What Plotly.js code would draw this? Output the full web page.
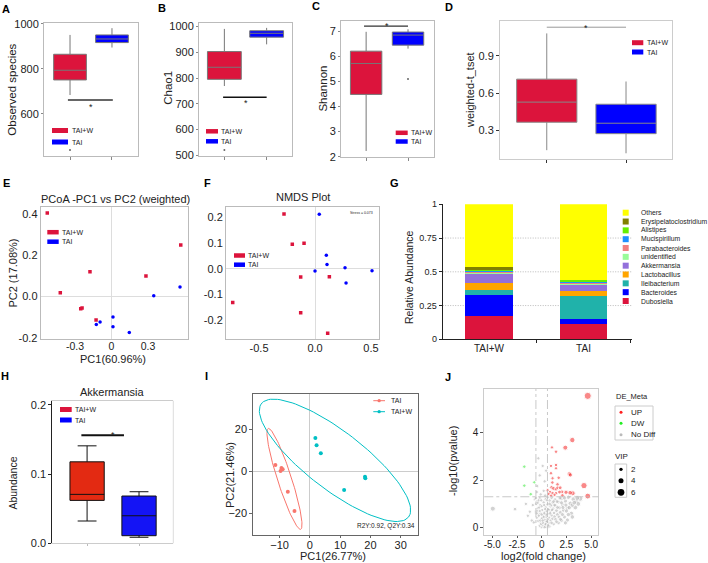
<!DOCTYPE html>
<html><head><meta charset="utf-8">
<script src="https://cdn.plot.ly/plotly-3.0.1.min.js"></script>
<style>html,body{margin:0;padding:0;background:#fff}#chart{width:708px;height:563px}</style>
</head><body><div id="chart"></div>
<script>
// ---------------- DATA ----------------
const groups = ['TAI+W', 'TAI'];
// A: Observed species (box stats: [TAI+W, TAI])
const obsQ1 = [751, 917], obsMedian = [794, 933], obsQ3 = [865, 951], obsLower = [684, 895], obsUpper = [951, 981];
const obsOutlierTAIW = [440];
// B: Chao1
const chaoQ1 = [795, 959], chaoMedian = [842, 974], chaoQ3 = [903, 984], chaoLower = [769, 931], chaoUpper = [991, 995];
const chaoOutlierTAIW = [520];
// C: Shannon
const shanQ1 = [4.48, 6.44], shanMedian = [5.71, 6.84], shanQ3 = [6.2, 6.96], shanLower = [2.23, 6.3], shanUpper = [6.97, 7.07];
const shanOutlierTAI = [5.09];
// D: weighted-t_tset
const wtQ1 = [0.365, 0.273], wtMedian = [0.527, 0.357], wtQ3 = [0.712, 0.51], wtLower = [0.14, 0.115], wtUpper = [1.08, 0.693];
// E: PCoA
const pcoaTAIWx = [-0.528, -0.177, -0.421, -0.253, -0.242, -0.127, 0.283, 0.569];
const pcoaTAIWy = [0.404, 0.120, 0.018, -0.060, -0.056, -0.114, 0.099, 0.249];
const pcoaTAIx = [0.563, 0.347, -0.125, -0.094, 0.012, 0.012, 0.146];
const pcoaTAIy = [0.046, 0.003, -0.136, -0.124, -0.100, -0.147, -0.174];
// F: NMDS
const nmdsTAIWx = [-0.277, -0.203, -0.098, -0.128, 0.128, -0.735, -0.128, 0.113];
const nmdsTAIWy = [0.213, 0.095, 0.099, -0.032, -0.031, -0.132, -0.172, -0.251];
const nmdsTAIx = [0.038, 0.101, 0.107, 0.0, 0.268, 0.509, 0.277];
const nmdsTAIy = [0.212, 0.052, 0.016, -0.009, 0.004, -0.008, -0.056];
// G: relative abundance (bottom to top)
const genera = ['Dubosiella', 'Bacteroides', 'Ileibacterium', 'Lactobacillus', 'Akkermansia', 'unidentified', 'Parabacteroides', 'Mucispirillum', 'Alistipes', 'Erysipelatoclostridium', 'Others'];
const abundTAIW = [0.171, 0.160, 0.032, 0.051, 0.071, 0.007, 0.008, 0.004, 0.012, 0.016, 0.468];
const abundTAI  = [0.115, 0.037, 0.166, 0.042, 0.044, 0.006, 0.004, 0.014, 0.012, 0.003, 0.557];
// H: Akkermansia abundance
const akkQ1 = [0.062, 0.011], akkMedian = [0.0707, 0.0398], akkQ3 = [0.1177, 0.0683], akkLower = [0.0322, 0.0087], akkUpper = [0.1408, 0.0745];
// I: PLS-DA scores
const plsTAIx = [-11.4, -9.4, -9.0, -9.7, -7.3, -5.1];
const plsTAIy = [3.0, 1.6, 1.0, 0.2, -9.7, -18.9];
const plsTAIWx = [1.8, 2.2, 3.6, 11.3, 18.2, 18.3];
const plsTAIWy = [15.9, 12.4, 8.6, -8.9, -2.6, -3.3];
// confidence ellipses: centre, half-axis vectors (data units)
const ellTAIcentre = [-8.4, -3.6], ellTAIu = [5.35, -24.0], ellTAIv = [2.2, 1.0];
const ellTAIWcentre = [8.28, 5.24], ellTAIWu = [24.3, -27.0], ellTAIWv = [5.84, 10.9];
// J: volcano
const upX = [4.66, 3.1, 2.39, 1.04, 1.45, 0.94, 1.45, 1.45, 0.94, 2.8, 2.9, 1.1, 1.08, 1.72, 1.6, 4.28, 4.66, 3.14, 2.87, 2.46, 2.05, 1.0, 1.2, 1.45, 1.6, 1.87, 0.6, 0.85, 1.1, 1.45, 1.8, 0.7, 1.3, 2.1, 0.95];
const upY = [5.55, 3.69, 3.37, 3.38, 3.2, 2.6, 2.64, 2.5, 2.29, 2.26, 2.22, 2.08, 1.9, 2.1, 1.82, 1.77, 1.33, 1.45, 1.47, 1.49, 1.51, 1.7, 1.65, 1.62, 1.68, 1.68, 1.58, 1.5, 1.45, 1.45, 1.5, 1.42, 1.38, 1.36, 1.35];
const upVip = [6.5, 4.5, 4, 2, 2.2, 2, 2.2, 2, 2.2, 3.6, 3.2, 2, 2.2, 2.2, 2.4, 5.5, 5, 4, 3.6, 3.2, 2.6, 2.5, 2.8, 2.5, 2.2, 2.6, 2, 2.2, 2.4, 2.2, 2.5, 2, 2, 2.3, 2];
const dwX = [-1.76, -0.75, -1.76, -1.11];
const dwY = [2.57, 1.91, 1.77, 1.41];
const dwVip = [2.2, 2, 2.2, 2.2];
const ndX = [0.0, 0.2, 0.4, -0.2, 0.1, 0.5, 0.3, -0.1, 0.7, 0.15, -0.35, 0.55, 0.9, 0.3, 0.0, 1.1, 0.75, -0.5, 0.45, 1.3, 0.15, 1.0, -0.25, 1.6, 0.6, 1.25, 0.3, 1.9, -0.6, 0.9, 1.5, 0.05, 2.2, 0.65, 1.15, -0.4, 1.8, 0.4, 2.6, 0.9, 1.4, -0.15, 2.1, 0.6, 2.9, 1.1, 0.2, 1.7, -0.5, 2.4, 0.8, 3.5, 1.35, 0.4, 3.2, 2.0, -0.2, 3.9, 1.0, 2.7, 0.6, 2.6, 3.0, 2.3, 3.4, 3.7, 2.0, 1.7, 1.2, 0.8, -4.95, -2.7, -1.2, -1.0, -0.8, -1.4, -0.9, -0.7, -1.6, -0.34, 0.1, -0.2, 0.3, -0.45, 0.2, -0.1, 0.45, 0.35, -0.5,
  -0.55, -0.45, -0.3, -0.15, -0.05, -0.6, -0.4, -0.25, -0.1, 0.05, 0.12, -0.5, -0.2, 0.0, -0.3, -0.05, 0.35, 0.6, 0.85, 1.05, 1.3, 1.55, 1.85, 0.45, 0.7, 0.95, 1.2, 0.5, 0.8, 1.0, 1.4, 1.75, 2.1, 2.5, 2.8, 3.1, 1.6, 2.0, 2.3, 0.25, 0.55, 0.7, 1.5, 2.45, 3.3, 3.6, 2.15, 1.9, 2.7, 3.1, 2.4, 0.25, 0.35, 0.1, 0.3, 0.5, 0.2, 0.4, 0.65, 0.0];
const ndY = [0.02, 0.05, 0.04, 0.08, 0.12, 0.12, 0.18, 0.2, 0.2, 0.25, 0.28, 0.28, 0.3, 0.34, 0.38, 0.38, 0.42, 0.42, 0.46, 0.46, 0.5, 0.52, 0.55, 0.55, 0.58, 0.62, 0.64, 0.64, 0.66, 0.68, 0.72, 0.74, 0.74, 0.78, 0.8, 0.82, 0.84, 0.86, 0.82, 0.9, 0.93, 0.95, 0.96, 0.98, 1.02, 1.04, 1.06, 1.08, 1.1, 1.12, 1.14, 1.12, 1.18, 1.2, 1.2, 1.22, 1.24, 1.22, 1.26, 1.28, 1.28, 0.32, 0.6, 0.45, 0.85, 1.0, 0.3, 0.2, 0.15, 0.05, 0.8, 0.78, 0.67, 0.3, 0.22, 0.5, 0.95, 1.2, 1.0, 2.92, 2.6, 2.2, 1.95, 1.75, 1.55, 1.4, 2.4, 1.35, 1.5,
  1.0, 0.7, 0.5, 0.3, 0.15, 1.25, 1.05, 0.85, 0.6, 0.4, 0.2, 0.6, 0.7, 0.9, 1.15, 1.15, 0.1, 0.35, 0.6, 0.75, 0.95, 1.1, 1.25, 0.55, 0.75, 0.95, 1.1, 0.7, 1.0, 0.2, 0.35, 0.45, 0.55, 0.7, 0.85, 0.95, 0.85, 1.05, 1.25, 0.95, 1.15, 0.05, 0.25, 0.95, 1.05, 1.25, 0.85, 0.35, 0.55, 0.45, 0.2, 0.6, 0.78, 0.3, 0.02, 0.25, 0.45, 0.15, 0.1, 0.55];
const ndVip = [2, 2, 2, 2, 2.5, 2, 2.2, 2, 2.2, 2, 2, 2.5, 2, 2.2, 2, 2.4, 2, 2, 2.3, 2.6, 2, 2.2, 2, 2.8, 2.2, 2.4, 2, 3, 2, 2.3, 2.6, 2, 3.2, 2.2, 2.4, 2, 2.8, 2.1, 3.5, 2.3, 2.5, 2, 3, 2.2, 3.6, 2.4, 2, 2.7, 2, 3.2, 2.2, 4, 2.5, 2.1, 3.6, 2.9, 2, 4.2, 2.3, 3.2, 2.1, 3.2, 3.4, 3, 3.8, 3.8, 2.8, 2.5, 2.3, 2, 4, 2.5, 2, 2, 2, 2, 2, 2, 2, 2, 2, 2, 2, 2, 2, 2, 2, 2.2, 2,
  2, 2, 2, 2, 2, 2, 2, 2, 2, 2, 2, 2, 2, 2, 2, 2, 2, 2.2, 2.3, 2.4, 2.5, 2.6, 2.8, 2.1, 2.2, 2.3, 2.5, 2.1, 2.3, 2.3, 2.5, 2.7, 2.9, 3.1, 3.3, 3.5, 2.6, 2.8, 3.0, 2.0, 2.1, 2.1, 2.5, 3.1, 3.6, 3.8, 2.9, 2.7, 3.2, 3.4, 3.0, 2.0, 2.1, 2, 2, 2.1, 2, 2.1, 2.2, 2];
const fcThreshold = 0.585, pThreshold = 1.301;

// ---------------- STYLE ----------------
const FONT = 'Liberation Sans, Arial, sans-serif';
const RED = '#DC143C', BLUE = '#0000FF';
const genusColors = ['#DC143C', '#0000FF', '#20B2AA', '#FFA500', '#9370DB', '#98FB98', '#F08080', '#1E90FF', '#66EE00', '#808000', '#FFFF00'];
const W = 708, H = 563;
const fx = p => p / W, fy = p => 1 - p / H;

const traces = [], shapes = [], annotations = [];
const sfx = n => (n === 1 ? '' : String(n));

function addBoxes(n, q1, med, q3, lo, hi, fills, lineColor, width, ww) {
  groups.forEach((g, i) => traces.push({
    type: 'box', x: [g], q1: [q1[i]], median: [med[i]], q3: [q3[i]],
    lowerfence: [lo[i]], upperfence: [hi[i]], fillcolor: fills[i],
    line: { color: lineColor, width: 1 }, width: width, whiskerwidth: ww,
    boxpoints: false, xaxis: 'x' + sfx(n), yaxis: 'y' + sfx(n), hoverinfo: 'skip', showlegend: false
  }));
}
function addOutlier(n, g, vals) {
  traces.push({ type: 'scatter', mode: 'markers', x: vals.map(() => g), y: vals,
    marker: { size: 2, color: '#666' }, xaxis: 'x' + sfx(n), yaxis: 'y' + sfx(n), hoverinfo: 'skip', showlegend: false });
}
function text(t, x, y, size, opts) {
  annotations.push(Object.assign({ text: t, x: fx(x), y: fy(y), xref: 'paper', yref: 'paper', showarrow: false,
    font: { family: FONT, size: size, color: '#222' }, xanchor: 'center', yanchor: 'middle', borderpad: 0 }, opts || {}));
}
function rectPx(x0, y0, x1, y1, fill, line) {
  shapes.push({ type: 'rect', xref: 'paper', yref: 'paper', x0: fx(x0), x1: fx(x1), y0: fy(y1), y1: fy(y0),
    fillcolor: fill, line: { width: line ? 1 : 0, color: line || fill } });
}
function groupLegend(x0, x1, yc, h, tx, colors) {
  groups.forEach((g, i) => {
    rectPx(x0, yc[i] - h / 2, x1, yc[i] + h / 2, colors[i]);
    text(g, tx, yc[i], 7, { xanchor: 'left' });
  });
}
function sigBar(n, a, b, yv, color, w) {
  shapes.push({ type: 'line', xref: 'x' + sfx(n), yref: 'y' + sfx(n), x0: a, x1: b, y0: yv, y1: yv, line: { color: color, width: w } });
}
function star(n, ypx) {
  annotations.push({ text: '*', xref: 'x' + sfx(n), yref: 'paper', x: 0.5, y: fy(ypx + 2.5), showarrow: false,
    font: { family: FONT, size: 9, color: '#222' }, xanchor: 'center', yanchor: 'middle', borderpad: 0 });
}

// ---------------- TRACES ----------------
addBoxes(1, obsQ1, obsMedian, obsQ3, obsLower, obsUpper, [RED, BLUE], '#777', 0.78, 0);
addOutlier(1, 'TAI+W', obsOutlierTAIW);
addBoxes(2, chaoQ1, chaoMedian, chaoQ3, chaoLower, chaoUpper, [RED, BLUE], '#777', 0.8, 0);
addOutlier(2, 'TAI+W', chaoOutlierTAIW);
addBoxes(3, shanQ1, shanMedian, shanQ3, shanLower, shanUpper, [RED, BLUE], '#777', 0.75, 0);
addOutlier(3, 'TAI', shanOutlierTAI);
addBoxes(4, wtQ1, wtMedian, wtQ3, wtLower, wtUpper, [RED, BLUE], '#888', 0.76, 0);
traces.push({ type: 'scatter', mode: 'markers', x: pcoaTAIWx, y: pcoaTAIWy, marker: { symbol: 'square', size: 3.5, color: RED }, xaxis: 'x5', yaxis: 'y5', showlegend: false });
traces.push({ type: 'scatter', mode: 'markers', x: pcoaTAIx, y: pcoaTAIy, marker: { symbol: 'circle', size: 3.5, color: BLUE }, xaxis: 'x5', yaxis: 'y5', showlegend: false });
traces.push({ type: 'scatter', mode: 'markers', x: nmdsTAIWx, y: nmdsTAIWy, marker: { symbol: 'square', size: 3.5, color: RED }, xaxis: 'x6', yaxis: 'y6', showlegend: false });
traces.push({ type: 'scatter', mode: 'markers', x: nmdsTAIx, y: nmdsTAIy, marker: { symbol: 'circle', size: 3.5, color: BLUE }, xaxis: 'x6', yaxis: 'y6', showlegend: false });
genera.forEach((g, i) => traces.push({ type: 'bar', name: g, x: groups, y: [abundTAIW[i], abundTAI[i]], width: 0.5,
  marker: { color: genusColors[i], line: { width: 0 } }, xaxis: 'x7', yaxis: 'y7', showlegend: false, hoverinfo: 'skip' }));
addBoxes(8, akkQ1, akkMedian, akkQ3, akkLower, akkUpper, ['#E32A12', '#1414F5'], '#111', 0.66, 0.55);
function ellipse(c, u, v) {
  const xs = [], ys = [];
  for (let k = 0; k <= 120; k++) { const t = 2 * Math.PI * k / 120; xs.push(c[0] + u[0] * Math.cos(t) + v[0] * Math.sin(t)); ys.push(c[1] + u[1] * Math.cos(t) + v[1] * Math.sin(t)); }
  return { xs, ys };
}
const e1 = ellipse(ellTAIcentre, ellTAIu, ellTAIv), e2 = ellipse(ellTAIWcentre, ellTAIWu, ellTAIWv);
traces.push({ type: 'scatter', mode: 'lines', x: e1.xs, y: e1.ys, line: { color: '#F8766D', width: 1 }, xaxis: 'x9', yaxis: 'y9', showlegend: false, hoverinfo: 'skip' });
traces.push({ type: 'scatter', mode: 'lines', x: e2.xs, y: e2.ys, line: { color: '#00BFC4', width: 1 }, xaxis: 'x9', yaxis: 'y9', showlegend: false, hoverinfo: 'skip' });
traces.push({ type: 'scatter', mode: 'markers', x: plsTAIx, y: plsTAIy, marker: { size: 4, color: '#F8766D' }, xaxis: 'x9', yaxis: 'y9', showlegend: false });
traces.push({ type: 'scatter', mode: 'markers', x: plsTAIWx, y: plsTAIWy, marker: { size: 4, color: '#00BFC4' }, xaxis: 'x9', yaxis: 'y9', showlegend: false });
const vipSize = v => 1.6 + v * 0.85;
traces.push({ type: 'scatter', mode: 'markers', x: ndX, y: ndY, marker: { size: ndVip.map(vipSize), color: 'rgba(180,180,180,0.85)' }, xaxis: 'x10', yaxis: 'y10', showlegend: false });
traces.push({ type: 'scatter', mode: 'markers', x: dwX, y: dwY, marker: { size: dwVip.map(vipSize), color: 'rgba(60,235,60,0.8)' }, xaxis: 'x10', yaxis: 'y10', showlegend: false });
traces.push({ type: 'scatter', mode: 'markers', x: upX, y: upY, marker: { size: upVip.map(vipSize), color: 'rgba(245,45,45,0.8)' }, xaxis: 'x10', yaxis: 'y10', showlegend: false });

// ---------------- AXES ----------------
const tickFont = s => ({ family: FONT, size: s, color: '#222' });
function catX(n, l, r, range, lineColor, ticklen, tickcolor, mirror) {
  return { domain: [fx(l), fx(r)], anchor: 'y' + sfx(n), type: 'category', categoryorder: 'array', categoryarray: groups,
    range: range, showline: true, mirror: mirror, linecolor: lineColor, linewidth: 1, showticklabels: false,
    ticks: 'outside', ticklen: ticklen, tickcolor: tickcolor, showgrid: false, zeroline: false, fixedrange: true };
}
function numY(n, t, b, range, tickvals, ticktext, lineColor, mirror, ticklen, tickcolor, fs) {
  return { domain: [fy(b), fy(t)], anchor: 'x' + sfx(n), range: range, tickvals: tickvals, ticktext: ticktext,
    showline: true, mirror: mirror, linecolor: lineColor, linewidth: 1, ticks: ticklen ? 'outside' : '', ticklen: ticklen || 0,
    tickcolor: tickcolor, tickfont: tickFont(fs || 11), showgrid: false, zeroline: false, fixedrange: true };
}
function numX(n, l, r, range, tickvals, ticktext, lineColor, ticklen, fs, zl) {
  return { domain: [fx(l), fx(r)], anchor: 'y' + sfx(n), range: range, tickvals: tickvals, ticktext: ticktext,
    showline: true, mirror: true, linecolor: lineColor, linewidth: 1, ticks: ticklen ? 'outside' : '', ticklen: ticklen || 0,
    tickcolor: lineColor, tickfont: tickFont(fs || 11), showgrid: false, zeroline: !!zl, zerolinecolor: zl, zerolinewidth: 1, fixedrange: true };
}

const layout = {
  width: W, height: H, autosize: false, margin: { l: 0, r: 0, t: 0, b: 0 },
  paper_bgcolor: '#fff', plot_bgcolor: 'rgba(0,0,0,0)', showlegend: false, barmode: 'stack',
  font: { family: FONT, color: '#222' },
  xaxis: catX(1, 44, 138, [-0.62, 1.62], '#bbb', 3, '#888', true),
  yaxis: numY(1, 23, 156, [413, 1004], [600, 800, 1000], ['600', '800', '1000'], '#bbb', true, 2, '#888'),
  xaxis2: catX(2, 199, 292, [-0.6, 1.6], '#bbb', 3, '#888', true),
  yaxis2: numY(2, 23, 156, [497, 1014], [500, 600, 700, 800, 900, 1000], null, '#bbb', true, 2, '#888'),
  xaxis3: catX(3, 341, 434, [-0.6, 1.62], '#bbb', 3, '#888', true),
  yaxis3: numY(3, 21, 157, [1.99, 7.4], [2, 3, 4, 5, 6, 7], null, '#bbb', true, 2, '#888'),
  xaxis4: catX(4, 500, 672, [-0.59, 1.58], '#ccc', 3, '#333', true),
  yaxis4: numY(4, 21, 159, [0.069, 1.18], [0.3, 0.6, 0.9], ['0.3', '0.6', '0.9'], '#ccc', true, 3, '#333'),
  xaxis5: numX(5, 40.7, 187.7, [-0.582, 0.626], [-0.3, 0, 0.3], ['-0.3', '0', '0.3'], '#bbb', 0, 10.5, '#ddd'),
  yaxis5: Object.assign(numY(5, 207.3, 339, [-0.206, 0.432], [-0.2, 0, 0.2, 0.4], ['-0.2', '0.0', '0.2', '0.4'], '#bbb', true, 0), { zeroline: true, zerolinecolor: '#ddd', zerolinewidth: 1 }),
  xaxis6: numX(6, 226, 379.3, [-0.795, 0.574], [-0.5, 0, 0.5], ['-0.5', '0.0', '0.5'], '#bbb', 0, 11, '#ddd'),
  yaxis6: Object.assign(numY(6, 207.3, 339.3, [-0.275, 0.239], [-0.2, -0.1, 0, 0.1, 0.2], ['-0.2', '-0.1', '0.0', '0.1', '0.2'], '#bbb', true, 0), { zeroline: true, zerolinecolor: '#ddd', zerolinewidth: 1 }),
  xaxis7: { domain: [fx(442.7), fx(631.7)], anchor: 'y7', type: 'category', categoryorder: 'array', categoryarray: groups,
    range: [-0.49, 1.51], showline: true, linecolor: '#222', linewidth: 1, ticks: 'outside', tickson: 'boundaries', ticklen: 3,
    tickcolor: '#222', tickfont: tickFont(10), showgrid: false, zeroline: false, fixedrange: true },
  yaxis7: numY(7, 204.3, 339.3, [0, 1], [0, 0.25, 0.5, 0.75, 1], ['0', '0.25', '0.5', '0.75', '1'], '#222', false, 3, '#222', 9),
  xaxis8: catX(8, 52.3, 173.3, [-0.67, 1.66], '#ccc', 2, '#bbb', true),
  yaxis8: numY(8, 400.7, 543.3, [0, 0.206], [0, 0.1, 0.2], ['0.0', '0.1', '0.2'], '#222', false, 3, '#222'),
  xaxis9: numX(9, 253.3, 418.3, [-18.7, 35.8], [-10, 0, 10, 20, 30], null, '#666', 2, 11, '#ccc'),
  yaxis9: Object.assign(numY(9, 394, 535, [-30.3, 36.8], [-20, 0, 20], null, '#666', true, 3, '#666'), { zeroline: true, zerolinecolor: '#ccc', zerolinewidth: 1 }),
  xaxis10: numX(10, 484.3, 598.3, [-5.81, 5.73], [-5, -2.5, 0, 2.5, 5], ['-5.0', '-2.5', '0', '2.5', '5.0'], '#ccc', 2, 10),
  yaxis10: numY(10, 389, 535, [-0.31, 5.84], [0, 2, 4], null, '#ccc', true, 3, '#555', 10)
};
layout.xaxis10.tickcolor = '#555';
layout.xaxis9.tickcolor = '#666';
['xaxis6', 'xaxis9', 'xaxis10'].forEach(k => { layout[k].ticklabelstandoff = -2; });
layout.xaxis5.ticklabelstandoff = -3;

// ---------------- DECORATION ----------------
sigBar(1, -0.05, 1.02, 662, '#333', 1.5); star(1, 105);
sigBar(2, -0.03, 1.0, 725, '#111', 1.5); star(2, 100.7);
sigBar(3, -0.05, 1.0, 7.2, '#333', 1.2); star(3, 23.3);
sigBar(4, 0, 1, 1.13, '#999', 1); star(4, 25);
sigBar(8, -0.11, 0.71, 0.156, '#111', 2); star(8, 432.7);
groupLegend(52, 68, [130.5, 142], 5, 70.5, [RED, BLUE]);
groupLegend(206, 218, [131.3, 141.3], 4.5, 220, [RED, BLUE]);
groupLegend(395.7, 407.7, [132.8, 141.5], 4.5, 410, [RED, BLUE]);
groupLegend(632, 643.3, [42.7, 52], 5, 645.5, [RED, BLUE]);
groupLegend(47.3, 58.7, [232.2, 241.7], 4.5, 60.7, [RED, BLUE]);
groupLegend(234, 245, [255.5, 264.7], 4.5, 247, [RED, BLUE]);
groupLegend(60, 71.7, [409.5, 420], 5, 73.5, [RED, BLUE]);
[0.25, 0.5, 0.75].forEach(v => shapes.push({ type: 'line', xref: 'x7 domain', yref: 'y7', x0: 0, x1: 1, y0: v, y1: v, layer: 'below', line: { color: '#aaa', width: 0.8, dash: '1px,1.5px' } }));
genera.slice().reverse().forEach((g, k) => {
  const i = genera.length - 1 - k, yc = 212.7 + k * 8.83;
  rectPx(622.7, yc - 3, 628.7, yc + 3, genusColors[i]);
  text(g, 639.5, yc, 6.8, { xanchor: 'left' });
});
shapes.push({ type: 'line', xref: 'paper', yref: 'paper', x0: fx(173.3), x1: fx(173.3), y0: fy(543.3), y1: fy(400.7), line: { color: '#ddd', width: 1 } });
[['TAI', '#F8766D', 400.7], ['TAI+W', '#00BFC4', 411.7]].forEach(([t, c, y]) => {
  shapes.push({ type: 'line', xref: 'paper', yref: 'paper', x0: fx(373.3), x1: fx(385), y0: fy(y), y1: fy(y), line: { color: c, width: 1 } });
  shapes.push({ type: 'circle', xref: 'paper', yref: 'paper', x0: fx(377.5), x1: fx(380.8), y0: fy(y + 1.65), y1: fy(y - 1.65), fillcolor: c, line: { width: 0 } });
  text(t, 390, y, 7, { xanchor: 'left' });
});
text('R2Y:0.92, Q2Y:0.34', 386, 526, 6.5);
[-fcThreshold, fcThreshold].forEach(v => shapes.push({ type: 'line', xref: 'x10', yref: 'y10 domain', x0: v, x1: v, y0: 0, y1: 1, line: { color: '#bbb', width: 0.8, dash: 'dashdot' } }));
shapes.push({ type: 'line', xref: 'x10 domain', yref: 'y10', x0: 0, x1: 1, y0: pThreshold, y1: pThreshold, line: { color: '#bbb', width: 0.8, dash: 'dashdot' } });
text('DE_Meta', 615, 396.7, 7.5, { xanchor: 'left' });
rectPx(615, 406, 653, 440, 'rgba(0,0,0,0)', '#ccc');
[['UP', '#FF2020', 412.3], ['DW', '#22EE22', 423.3], ['No Diff', '#BBBBBB', 434.7]].forEach(([t, c, y]) => {
  shapes.push({ type: 'circle', xref: 'paper', yref: 'paper', x0: fx(619.5), x1: fx(622.5), y0: fy(y + 1.5), y1: fy(y - 1.5), fillcolor: c, line: { width: 0 } });
  text(t, 630, y, 8, { xanchor: 'left' });
});
text('VIP', 614, 456.7, 8, { xanchor: 'left' });
rectPx(615, 464, 626.7, 497.3, 'rgba(0,0,0,0)', '#ccc');
[['2', 2, 469.3], ['4', 4, 480.7], ['6', 6, 492.3]].forEach(([t, v, y]) => {
  const r = vipSize(v) / 2;
  shapes.push({ type: 'circle', xref: 'paper', yref: 'paper', x0: fx(621 - r), x1: fx(621 + r), y0: fy(y + r), y1: fy(y - r), fillcolor: '#000', line: { width: 0 } });
  text(t, 630, y, 8, { xanchor: 'left' });
});
text('Stress = 0.073', 361, 212.7, 3.5);

text('PCoA -PC1 vs PC2 (weighted)', 115, 199.3, 11);
text('NMDS Plot', 302.7, 197.3, 11);
text('Akkermansia', 111.7, 392.3, 11);
const vt = (t, x, y, s) => text(t, x, y, s, { textangle: -90 });
vt('Observed species', 11.7, 90, 11.5);
vt('Chao1', 168.5, 88.3, 11.5);
vt('Shannon', 323.3, 88.3, 11.5);
vt('weighted-t_tset', 470, 90, 11);
vt('PC2 (17.08%)', 13.3, 273.3, 11);
text('PC1(60.96%)', 113.3, 358.5, 11);
vt('Relative Abundance', 408.3, 276.7, 10.5);
vt('Abundance', 13.3, 483.3, 10.5);
vt('PC2(21.46%)', 230, 475, 11);
text('PC1(26.77%)', 333.3, 555.5, 11);
vt('-log10(pvalue)', 453, 461, 11);
text('log2(fold change)', 543.3, 556, 11);
[['A', 6, 8.5], ['B', 162, 8], ['C', 316, 6.5], ['D', 449, 7], ['E', 6, 183], ['F', 207, 183], ['G', 394, 183], ['H', 5, 376], ['I', 206, 376], ['J', 448, 377]]
  .forEach(([t, x, y]) => text('<b>' + t + '</b>', x, y, 11, { font: { family: FONT, size: 11, color: '#000' } }));

layout.shapes = shapes;
layout.annotations = annotations;
Plotly.newPlot('chart', traces, layout, { staticPlot: true, displayModeBar: false });
</script></body></html>
